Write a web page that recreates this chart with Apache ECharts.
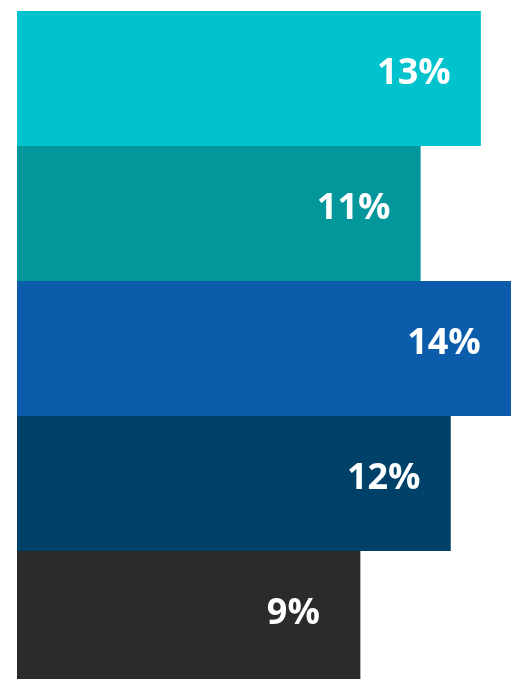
<!DOCTYPE html>
<html>
<head>
<meta charset="utf-8">
<script src="https://cdn.jsdelivr.net/npm/echarts@6/dist/echarts.min.js"></script>
<style>
  html, body { margin: 0; padding: 0; background: #ffffff; width: 517px; height: 679px; overflow: hidden; }
  #chart { width: 517px; height: 686px; }
</style>
</head>
<body>
<div id="chart"></div>
<script>
// Share per group, in percent, top to bottom
const categories = ['A', 'B', 'C', 'D', 'E'];
const shares = [13, 11, 14, 12, 9];

// One fill per bar, top to bottom
const palette = ['#00C3CD', '#03969A', '#0B5DAC', '#00416A', '#2B2B2B'];

// Value axis range; bars grow from the left end of the axis
const X_MIN = -2.4;
const X_MAX = 14.2;

const chart = echarts.init(document.getElementById('chart'), null, { renderer: 'canvas' });

chart.setOption({
  animation: false,
  backgroundColor: '#ffffff',
  grid: { left: 17, top: 11, right: 0, bottom: 0, containLabel: false },
  xAxis: { type: 'value', min: X_MIN, max: X_MAX, show: false },
  yAxis: { type: 'category', data: categories, inverse: true, show: false },
  series: [{
    type: 'custom',
    data: shares.map((v, i) => [v, i]),
    encode: { x: 0, y: 1 },
    renderItem: (params, api) => {
      const v = api.value(0);
      const idx = api.value(1);
      const start = api.coord([X_MIN, idx]);
      const end = api.coord([v, idx]);
      const h = api.size([0, 1])[1];
      return {
        type: 'group',
        children: [
          {
            type: 'rect',
            shape: { x: start[0], y: end[1] - h / 2, width: end[0] - start[0], height: h },
            style: { fill: palette[params.dataIndex] }
          },
          {
            type: 'text',
            x: end[0] - 67,
            y: end[1] - 5,
            style: {
              text: v + '%',
              fill: '#ffffff',
              font: 'bold 36px "Open Sans", sans-serif',
              align: 'center',
              verticalAlign: 'middle'
            }
          }
        ]
      };
    }
  }]
});
</script>
</body>
</html>
